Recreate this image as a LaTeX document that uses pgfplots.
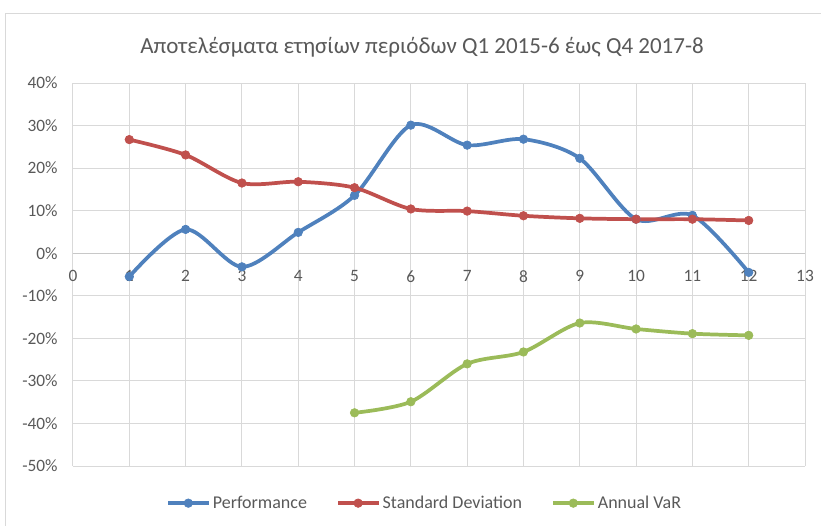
\documentclass[border=0pt]{standalone}
\usepackage{fontspec}
\setmainfont{Carlito}
\usepackage{pgfplots}
\pgfplotsset{compat=1.18}
\definecolor{pblue}{HTML}{4F81BD}
\definecolor{pred}{HTML}{C0504D}
\definecolor{pgreen}{HTML}{9BBB59}
\definecolor{txt}{HTML}{595959}
\definecolor{gridc}{HTML}{D9D9D9}
\definecolor{zeroc}{HTML}{C8C8C8}
\begin{document}
\begin{tikzpicture}
\useasboundingbox (0pt,0pt) rectangle (615.75pt,393.75pt);
\draw[gridc, line width=0.75pt] (3.75pt,-2pt) -- (3.75pt,383.25pt) -- (620pt,383.25pt);
\node[text=txt, font=\fontsize{17.25}{20}\selectfont] at (316.5pt,358.5pt) {Αποτελέσματα ετησίων περιόδων Q1 2015-6 έως Q4 2017-8};
\begin{axis}[
  at={(54.75pt,44.25pt)}, anchor=south west,
  scale only axis, width=549pt, height=287.25pt,
  xmin=0, xmax=13, ymin=-50, ymax=40,
  xtick={0,1,...,13}, ytick={-50,-40,...,40},
  axis x line=middle, axis y line=left,
  x axis line style={draw=zeroc, line width=0.75pt, -},
  y axis line style={draw=none},
  hide obscured x ticks=false,
  hide obscured y ticks=false,
  major tick length=0pt,
  grid=major, grid style={gridc, line width=0.75pt},
  tick label style={text=txt, font=\fontsize{13}{15}\selectfont},
  xticklabel style={yshift=-9.5pt},
  yticklabel style={xshift=-8pt},
  xticklabel={\pgfmathprintnumber[assume math mode=true]{\tick}},
  yticklabel={\pgfmathprintnumber[assume math mode=true]{\tick}\%},
  legend style={at={(0.481,-0.097)}, anchor=center, draw=none, fill=none,
    legend columns=3, font=\fontsize{13.5}{16}\selectfont, text=txt,
    /tikz/every even column/.append style={column sep=20pt}},
  legend image code/.code={\draw[mark repeat=2,mark phase=2,#1] plot coordinates {(0pt,0pt) (15pt,0pt) (30pt,0pt)};},
  every axis plot/.append style={line width=2.8pt, smooth, tension=0.5},
]
\addplot[pblue, mark=*, mark size=3.2pt, mark options={solid, fill=pblue, line width=0.5pt}] coordinates {
(1,-5.5) (2,5.6) (3,-3.2) (4,4.9) (5,13.6) (6,30.1) (7,25.4) (8,26.8) (9,22.3) (10,8.0) (11,8.9) (12,-4.5)};
\addlegendentry{Performance}
\addplot[pred, mark=*, mark size=3.2pt, mark options={solid, fill=pred, line width=0.5pt}] coordinates {
(1,26.7) (2,23.1) (3,16.5) (4,16.8) (5,15.4) (6,10.4) (7,9.9) (8,8.8) (9,8.2) (10,8.0) (11,8.0) (12,7.7)};
\addlegendentry{Standard Deviation}
\addplot[pgreen, mark=*, mark size=3.2pt, mark options={solid, fill=pgreen, line width=0.5pt}] coordinates {
(5,-37.5) (6,-34.9) (7,-26.0) (8,-23.2) (9,-16.4) (10,-17.8) (11,-18.9) (12,-19.3)};
\addlegendentry{Annual VaR}
\end{axis}
\end{tikzpicture}
\end{document}
